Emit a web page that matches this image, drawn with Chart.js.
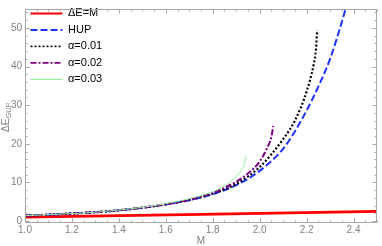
<!DOCTYPE html>
<html>
<head>
<meta charset="utf-8">
<script src="https://cdn.jsdelivr.net/npm/chart.js@4/dist/chart.umd.min.js"></script>
<style>
html, body { margin: 0; padding: 0; background: #fff; }
</style>
</head>
<body>
<canvas id="chart" width="382" height="246"></canvas>
<script>
// valores
const mLinha = [1.0, 2.5]
const eLinha = [1.0, 2.5]

const mHup = [1.0, 1.1, 1.2, 1.3, 1.4, 1.5, 1.6, 1.7, 1.8, 1.9, 2.0, 2.1, 2.15, 2.2, 2.25, 2.3, 2.35, 2.38]
const eHup = [1.4, 1.65, 1.95, 2.3, 2.8, 3.45, 4.3, 5.4, 7.0, 9.3, 13.0, 18.7, 23.2, 28.6, 34.8, 42.0, 51.5, 58.0]

const mA1 = [1.0, 1.1, 1.2, 1.3, 1.4, 1.5, 1.6, 1.7, 1.8, 1.9, 2.0, 2.1, 2.15, 2.2, 2.23, 2.24, 2.245]
const eA1 = [1.4, 1.65, 1.95, 2.3, 2.8, 3.45, 4.3, 5.45, 7.1, 9.6, 14.0, 21.2, 26.0, 33.5, 40.5, 44.5, 49.4]

const mA2 = [1.0, 1.1, 1.2, 1.3, 1.4, 1.5, 1.6, 1.7, 1.8, 1.9, 1.95, 2.0, 2.03, 2.05, 2.058]
const eA2 = [1.4, 1.65, 1.95, 2.3, 2.8, 3.5, 4.35, 5.55, 7.3, 10.2, 12.3, 15.4, 18.7, 21.8, 24.6]

const mA3 = [1.0, 1.1, 1.2, 1.3, 1.4, 1.5, 1.6, 1.7, 1.8, 1.85, 1.874, 1.9, 1.92, 1.935, 1.94]
const eA3 = [1.4, 1.65, 1.95, 2.3, 2.85, 3.55, 4.5, 5.8, 7.6, 9.1, 10.2, 11.6, 13.0, 14.8, 16.7]

const xTicks = [1.0, 1.2, 1.4, 1.6, 1.8, 2.0, 2.2, 2.4]
const yTicks = [0, 10, 20, 30, 40, 50]

const fonte = '"Liberation Sans", Arial, sans-serif'
const cinza = '#808080'

function pontos(xs, ys){
    return xs.map((x, i) => ({x: x, y: ys[i]}))
}

// ordem invertida: o primeiro dataset fica por cima, a legenda e revertida
var datasets = [
    {label: 'α=0.03', data: pontos(mA3, eA3), borderColor: 'rgb(144, 238, 144)', borderWidth: 1, larguraLegenda: 1},
    {label: 'α=0.02', data: pontos(mA2, eA2), borderColor: 'rgb(128, 0, 128)', borderWidth: 2, borderDash: [6, 2, 2, 2], larguraLegenda: 1.6},
    {label: 'α=0.01', data: pontos(mA1, eA1), borderColor: '#000', borderWidth: 2.2, borderDash: [2, 2], larguraLegenda: 1.6},
    {label: 'HUP', data: pontos(mHup, eHup), borderColor: 'rgb(30, 50, 255)', borderWidth: 2, borderDash: [7, 3], larguraLegenda: 2},
    {label: 'ΔE=M', data: pontos(mLinha, eLinha), borderColor: 'rgb(255, 0, 0)', borderWidth: 2.8, larguraLegenda: 2},
]

function legendaItens(chart){
    return chart.data.datasets.map((ds, i) => ({
        text: ds.label,
        datasetIndex: i,
        strokeStyle: ds.borderColor,
        fillStyle: 'rgba(0,0,0,0)',
        lineWidth: ds.larguraLegenda,
        lineDash: ds.borderDash || [],
        lineCap: 'butt',
        pointStyle: 'line',
        fontColor: '#000',
        hidden: false
    }))
}

const moldura = {
    id: 'moldura',
    afterDraw(chart){
        const ctx = chart.ctx
        const a = chart.chartArea
        const sx = chart.scales.x
        const sy = chart.scales.y
        ctx.save()
        ctx.strokeStyle = '#a8a8a8'
        ctx.lineWidth = 1
        let l = Math.round(a.left) + 0.5, r = Math.round(a.right) - 0.5
        let t = Math.round(a.top) + 0.5, b = Math.round(a.bottom) - 0.5
        ctx.strokeRect(l, t, r - l, b - t)
        ctx.beginPath()
        for(let i = 0; i <= 30; i++){// marcas a cada 0.05
            let v = 1 + i*0.05
            let px = Math.round(sx.getPixelForValue(v)) + 0.5
            let len = (i % 4 == 0) ? 4 : 2
            ctx.moveTo(px, b); ctx.lineTo(px, b - len)
            ctx.moveTo(px, t); ctx.lineTo(px, t + len)
        }
        for(let v = 0; v <= 54; v += 2){
            let py = Math.round(sy.getPixelForValue(v)) + 0.5
            let len = (v % 10 == 0) ? 4 : 2
            ctx.moveTo(l, py); ctx.lineTo(l + len, py)
            ctx.moveTo(r, py); ctx.lineTo(r - len, py)
        }
        ctx.stroke()

        // titulos dos eixos
        ctx.fillStyle = cinza
        ctx.font = '10px ' + fonte
        ctx.textAlign = 'center'
        ctx.textBaseline = 'middle'
        ctx.fillText('M', (a.left + a.right)/2, 241)
        ctx.translate(6, (a.top + a.bottom)/2 + 1)
        ctx.rotate(-Math.PI/2)
        ctx.textAlign = 'left'
        let w1 = ctx.measureText('ΔE').width
        ctx.font = '7.5px ' + fonte
        let w2 = ctx.measureText('GUP').width
        let x0 = -(w1 + w2)/2
        ctx.font = '10px ' + fonte
        ctx.fillText('ΔE', x0, 0)
        ctx.font = '7.5px ' + fonte
        ctx.fillText('GUP', x0 + w1, 3)
        ctx.restore()
    }
}

const ctx = document.getElementById('chart').getContext('2d')
const grafico = new Chart(ctx, {
    type: 'line',
    data: {datasets: datasets},
    options: {
        responsive: false,
        animation: false,
        devicePixelRatio: 1,
        layout: {padding: {top: 3, right: 5, left: 0, bottom: 0}},
        elements: {
            point: {radius: 0},
            line: {cubicInterpolationMode: 'monotone', fill: false}
        },
        plugins: {
            legend: {
                position: 'chartArea',
                align: 'start',
                reverse: true,
                title: {display: true, text: ' ', padding: 0, font: {size: 2}},
                labels: {
                    usePointStyle: true,
                    pointStyle: 'line',
                    pointStyleWidth: 32,
                    boxHeight: 11,
                    padding: 5.5,
                    color: '#000',
                    font: {size: 11, family: fonte},
                    generateLabels: legendaItens
                }
            },
            tooltip: {enabled: false}
        },
        scales: {
            x: {
                type: 'linear',
                min: 1.0,
                max: 2.5,
                grid: {display: false, drawTicks: false},
                border: {display: false},
                afterBuildTicks: s => { s.ticks = xTicks.map(v => ({value: v})) },
                afterFit: s => { s.height = 22.7 },
                ticks: {
                    padding: 1,
                    color: cinza,
                    maxRotation: 0,
                    font: {size: 10, family: fonte},
                    callback: v => Number(v).toFixed(1)
                }
            },
            y: {
                type: 'linear',
                min: -0.58,
                max: 54.9,
                grid: {display: false, drawTicks: false},
                border: {display: false},
                afterBuildTicks: s => { s.ticks = yTicks.map(v => ({value: v})) },
                afterFit: s => { s.width = 25 },
                ticks: {
                    padding: 3,
                    color: cinza,
                    font: {size: 10, family: fonte}
                }
            }
        }
    },
    plugins: [moldura]
})
</script>
</body>
</html>
